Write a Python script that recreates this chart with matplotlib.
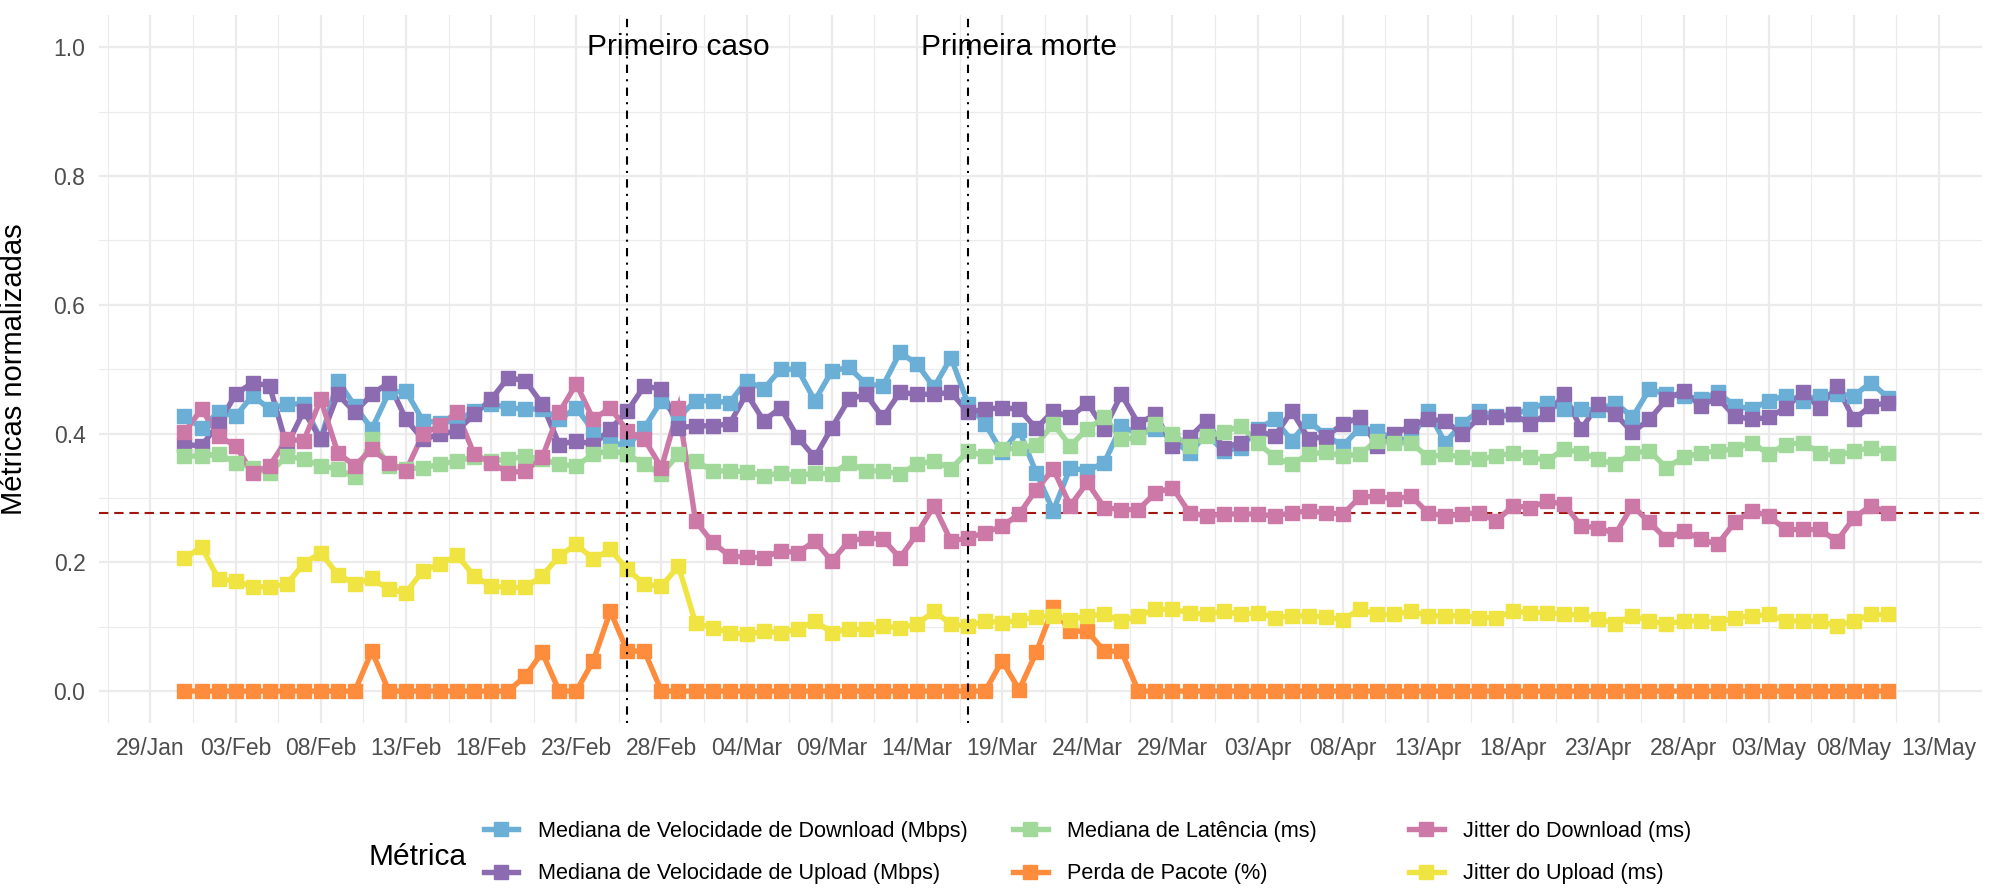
import matplotlib
matplotlib.use('Agg')
import matplotlib.pyplot as plt
import matplotlib.dates as mdates
from matplotlib.lines import Line2D
import numpy as np
import pandas as pd

plt.rcParams['font.family'] = ['Liberation Sans', 'DejaVu Sans']

# daily values, 31/Jan to 10/May 2020
dates = pd.date_range('2020-01-31', '2020-05-10', freq='D')

download = [0.427, 0.409, 0.433, 0.427, 0.459, 0.438, 0.446, 0.446, 0.391, 0.482, 0.443, 0.407, 0.464, 0.466, 0.420, 0.417, 0.420,
            0.435, 0.446, 0.440, 0.438, 0.438, 0.422, 0.440, 0.404, 0.386, 0.381, 0.409, 0.451, 0.425, 0.451, 0.451, 0.448, 0.482,
            0.469, 0.500, 0.500, 0.451, 0.497, 0.503, 0.477, 0.474, 0.526, 0.508, 0.472, 0.518, 0.446, 0.415, 0.371, 0.405, 0.339,
            0.280, 0.347, 0.342, 0.355, 0.412, 0.399, 0.407, 0.391, 0.370, 0.399, 0.373, 0.378, 0.407, 0.422, 0.389, 0.420, 0.397,
            0.381, 0.409, 0.404, 0.391, 0.391, 0.435, 0.386, 0.415, 0.435, 0.427, 0.430, 0.438, 0.448, 0.438, 0.438, 0.436, 0.448,
            0.425, 0.469, 0.461, 0.459, 0.453, 0.464, 0.443, 0.438, 0.451, 0.459, 0.451, 0.459, 0.461, 0.459, 0.479, 0.456]

upload = [0.383, 0.381, 0.415, 0.461, 0.479, 0.474, 0.381, 0.435, 0.391, 0.461, 0.433, 0.461, 0.479, 0.422, 0.391, 0.399, 0.404,
          0.430, 0.453, 0.487, 0.482, 0.446, 0.383, 0.389, 0.383, 0.407, 0.435, 0.474, 0.469, 0.409, 0.412, 0.412, 0.415, 0.462,
          0.420, 0.440, 0.394, 0.363, 0.409, 0.453, 0.461, 0.425, 0.464, 0.461, 0.461, 0.464, 0.433, 0.438, 0.440, 0.438, 0.408,
          0.435, 0.425, 0.448, 0.407, 0.461, 0.415, 0.430, 0.381, 0.394, 0.420, 0.378, 0.386, 0.404, 0.396, 0.435, 0.392, 0.395,
          0.415, 0.425, 0.381, 0.399, 0.412, 0.422, 0.420, 0.399, 0.425, 0.425, 0.430, 0.415, 0.430, 0.461, 0.407, 0.446, 0.430,
          0.402, 0.422, 0.453, 0.466, 0.443, 0.456, 0.427, 0.422, 0.425, 0.440, 0.464, 0.440, 0.474, 0.422, 0.443, 0.448]

latencia = [0.365, 0.365, 0.368, 0.355, 0.347, 0.339, 0.365, 0.360, 0.350, 0.345, 0.332, 0.391, 0.350, 0.345, 0.347, 0.352, 0.358,
            0.363, 0.358, 0.360, 0.365, 0.360, 0.352, 0.350, 0.368, 0.373, 0.368, 0.352, 0.337, 0.368, 0.358, 0.342, 0.342, 0.341,
            0.334, 0.339, 0.334, 0.339, 0.337, 0.355, 0.342, 0.342, 0.337, 0.352, 0.358, 0.345, 0.373, 0.365, 0.376, 0.377, 0.383,
            0.415, 0.381, 0.407, 0.425, 0.391, 0.394, 0.415, 0.399, 0.381, 0.396, 0.402, 0.412, 0.386, 0.363, 0.352, 0.368, 0.371,
            0.365, 0.368, 0.389, 0.386, 0.386, 0.363, 0.368, 0.363, 0.360, 0.365, 0.370, 0.363, 0.358, 0.376, 0.370, 0.360, 0.352,
            0.370, 0.373, 0.347, 0.363, 0.370, 0.373, 0.376, 0.386, 0.368, 0.383, 0.386, 0.370, 0.365, 0.373, 0.378, 0.370]

perda = [0.0] * 11 + [0.062] + [0.0] * 8 + [0.023, 0.060, 0.0, 0.0, 0.047, 0.124, 0.062, 0.062] + [0.0] * 20 \
        + [0.047, 0.002, 0.060, 0.130, 0.093, 0.093, 0.062, 0.062] + [0.0] * 45

jitter_down = [0.402, 0.438, 0.396, 0.381, 0.339, 0.350, 0.391, 0.389, 0.453, 0.370, 0.350, 0.376, 0.355, 0.342, 0.399, 0.413, 0.433,
               0.368, 0.355, 0.339, 0.342, 0.363, 0.433, 0.477, 0.422, 0.440, 0.404, 0.391, 0.347, 0.440, 0.264, 0.231, 0.210, 0.208,
               0.207, 0.218, 0.215, 0.233, 0.202, 0.233, 0.238, 0.236, 0.207, 0.244, 0.288, 0.233, 0.238, 0.246, 0.256, 0.275, 0.313,
               0.345, 0.288, 0.324, 0.285, 0.282, 0.282, 0.308, 0.316, 0.277, 0.272, 0.275, 0.275, 0.275, 0.272, 0.277, 0.280, 0.277,
               0.275, 0.301, 0.303, 0.298, 0.303, 0.277, 0.272, 0.275, 0.277, 0.264, 0.288, 0.285, 0.295, 0.290, 0.256, 0.254, 0.244,
               0.288, 0.262, 0.236, 0.249, 0.236, 0.228, 0.262, 0.280, 0.272, 0.251, 0.251, 0.251, 0.233, 0.269, 0.288, 0.277]

jitter_up = [0.206, 0.224, 0.174, 0.171, 0.162, 0.162, 0.166, 0.198, 0.215, 0.181, 0.167, 0.175, 0.158, 0.153, 0.187, 0.197, 0.211,
             0.179, 0.163, 0.161, 0.161, 0.179, 0.210, 0.228, 0.205, 0.220, 0.189, 0.166, 0.163, 0.194, 0.106, 0.098, 0.091, 0.088,
             0.093, 0.091, 0.096, 0.109, 0.091, 0.096, 0.096, 0.101, 0.098, 0.104, 0.124, 0.104, 0.101, 0.109, 0.106, 0.110, 0.115,
             0.117, 0.111, 0.117, 0.119, 0.109, 0.117, 0.127, 0.127, 0.122, 0.119, 0.124, 0.119, 0.122, 0.114, 0.117, 0.117, 0.115,
             0.111, 0.127, 0.119, 0.119, 0.124, 0.117, 0.117, 0.117, 0.114, 0.114, 0.124, 0.122, 0.122, 0.119, 0.119, 0.112, 0.105,
             0.117, 0.109, 0.104, 0.109, 0.109, 0.106, 0.114, 0.117, 0.119, 0.109, 0.109, 0.109, 0.101, 0.109, 0.119, 0.119]

labels = ['Mediana de Velocidade de Download (Mbps)', 'Mediana de Velocidade de Upload (Mbps)',
          'Mediana de Latência (ms)', 'Perda de Pacote (%)',
          'Jitter do Download (ms)', 'Jitter do Upload (ms)']
series = [download, upload, latencia, perda, jitter_down, jitter_up]
colors = ['#6BAED6', '#8C6BB1', '#A1D99B', '#FD8D3C', '#CC79A7', '#F0E442']

media_ref = 0.277
eventos = [('2020-02-26', 'Primeiro caso'), ('2020-03-17', 'Primeira morte')]

fig = plt.figure(figsize=(19.9, 8.9), dpi=100)
ax = fig.add_axes([0.0499, 0.1873, 0.9459, 0.7958])

# lines first, then the squares on top (like geom_line + geom_point)
for vals, c in zip(series, colors):
    ax.plot(dates, vals, color=c, linewidth=3.9, solid_joinstyle='miter', zorder=3)
for vals, c in zip(series, colors):
    ax.plot(dates, vals, linestyle='none', marker='s', markersize=9.4, color=c, zorder=4)

ax.axhline(media_ref, color='#A0150E', linewidth=1.5, linestyle=(0, (4.5, 2.8)), zorder=2)

for d, txt in eventos:
    dt = pd.Timestamp(d)
    ax.axvline(dt, color='black', linewidth=1.5, linestyle=(0, (1, 3, 4, 3)), zorder=5)
    ax.text(dt + pd.Timedelta(days=3), 1.0, txt, ha='center', va='center', fontsize=21.5, color='black')

ax.set_xlim(pd.Timestamp('2020-01-26'), pd.Timestamp('2020-05-15'))
ax.set_ylim(-0.05, 1.05)

major = pd.date_range('2020-01-29', '2020-05-13', freq='5D')
ax.set_xticks(major)
ax.xaxis.set_major_formatter(mdates.DateFormatter('%d/%b'))
minor = mdates.date2num(major) - 2.5
minor = np.append(minor, mdates.date2num(major[-1]) + 2.5)
ax.set_xticks(minor, minor=True)
ax.set_yticks([0.0, 0.2, 0.4, 0.6, 0.8, 1.0])
ax.set_yticklabels(['0.0', '0.2', '0.4', '0.6', '0.8', '1.0'])
ax.set_yticks([0.1, 0.3, 0.5, 0.7, 0.9], minor=True)

ax.grid(which='major', color='#EBEBEB', linewidth=1.6)
ax.grid(which='minor', color='#EBEBEB', linewidth=0.8)
ax.set_axisbelow(True)
for s in ax.spines.values():
    s.set_visible(False)
ax.tick_params(which='both', length=0)
ax.tick_params(axis='x', labelsize=16.5, colors='#4D4D4D', pad=10)
ax.tick_params(axis='y', labelsize=16.5, colors='#4D4D4D', pad=10)

ax.set_ylabel('Métricas normalizadas', fontsize=21, color='black')
ax.yaxis.set_label_coords(-0.038, 0.5)

# legend: three columns of two entries, placed one column at a time
col_x = [0.243, 0.509, 0.708]
for k in range(3):
    hs = [Line2D([0], [0], color=colors[i], linewidth=3.9, marker='s', markersize=9.4) for i in (2 * k, 2 * k + 1)]
    fig.legend(hs, [labels[2 * k], labels[2 * k + 1]], loc='center left', bbox_to_anchor=(col_x[k], 0.042),
               frameon=False, fontsize=15.6, handlelength=1.6, handletextpad=0.9,
               labelspacing=1.0, borderpad=0, borderaxespad=0)
fig.text(0.185, 0.037, 'Métrica', fontsize=21.5, ha='left', va='center')

fig.savefig('out.png', dpi=100)
